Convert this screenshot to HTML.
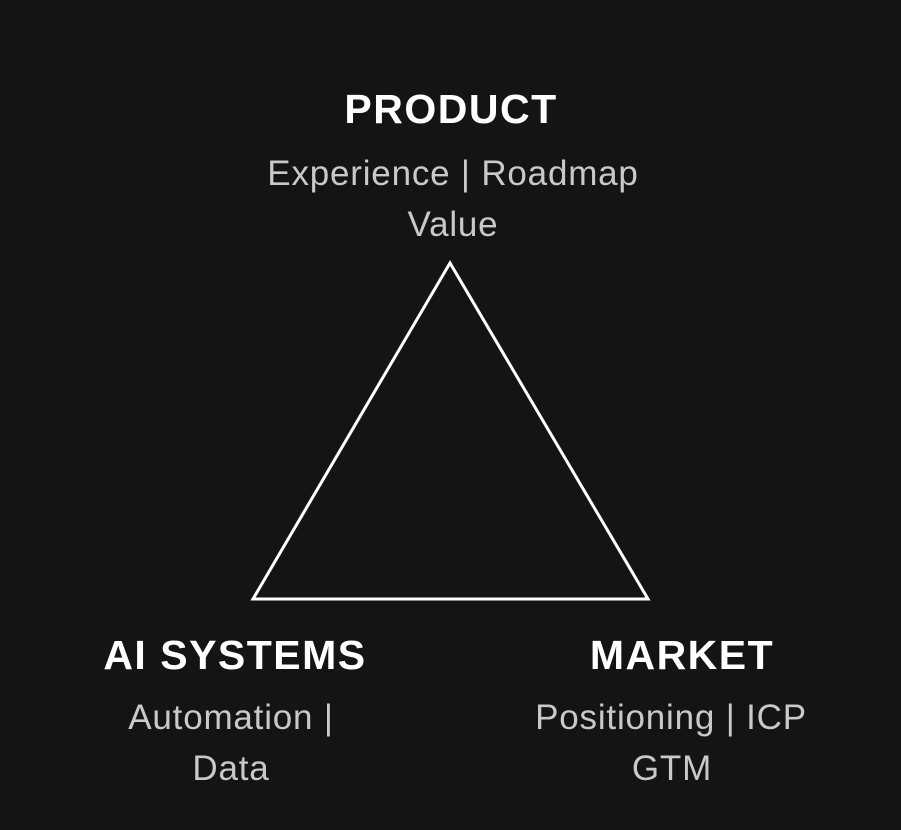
<!DOCTYPE html>
<html><head><meta charset="utf-8"><style>
html,body{margin:0;padding:0;background:#141414;}
svg{display:block}
.t{font-family:"Liberation Sans",sans-serif;font-weight:bold;fill:#fff;font-size:41px;letter-spacing:1.5px;text-anchor:middle}
.s{font-family:"Liberation Sans",sans-serif;fill:#c9c9c9;font-size:35px;letter-spacing:0.8px;text-anchor:middle}
</style></head><body>
<svg width="901" height="830" viewBox="0 0 901 830" xmlns="http://www.w3.org/2000/svg">
<rect width="901" height="830" fill="#141414"/>
<polygon points="450,263 253,599 648,599" fill="none" stroke="#fff" stroke-width="3" stroke-linejoin="miter"/>
<text class="t" x="451" y="123">PRODUCT</text>
<text class="s" x="453" y="185">Experience | Roadmap</text>
<text class="s" x="453" y="236">Value</text>
<text class="t" x="235" y="669">AI SYSTEMS</text>
<text class="s" x="231" y="729">Automation |</text>
<text class="s" x="231" y="780">Data</text>
<text class="t" x="682" y="669">MARKET</text>
<text class="s" x="671" y="729">Positioning | ICP</text>
<text class="s" x="672" y="780">GTM</text>
</svg>
</body></html>
